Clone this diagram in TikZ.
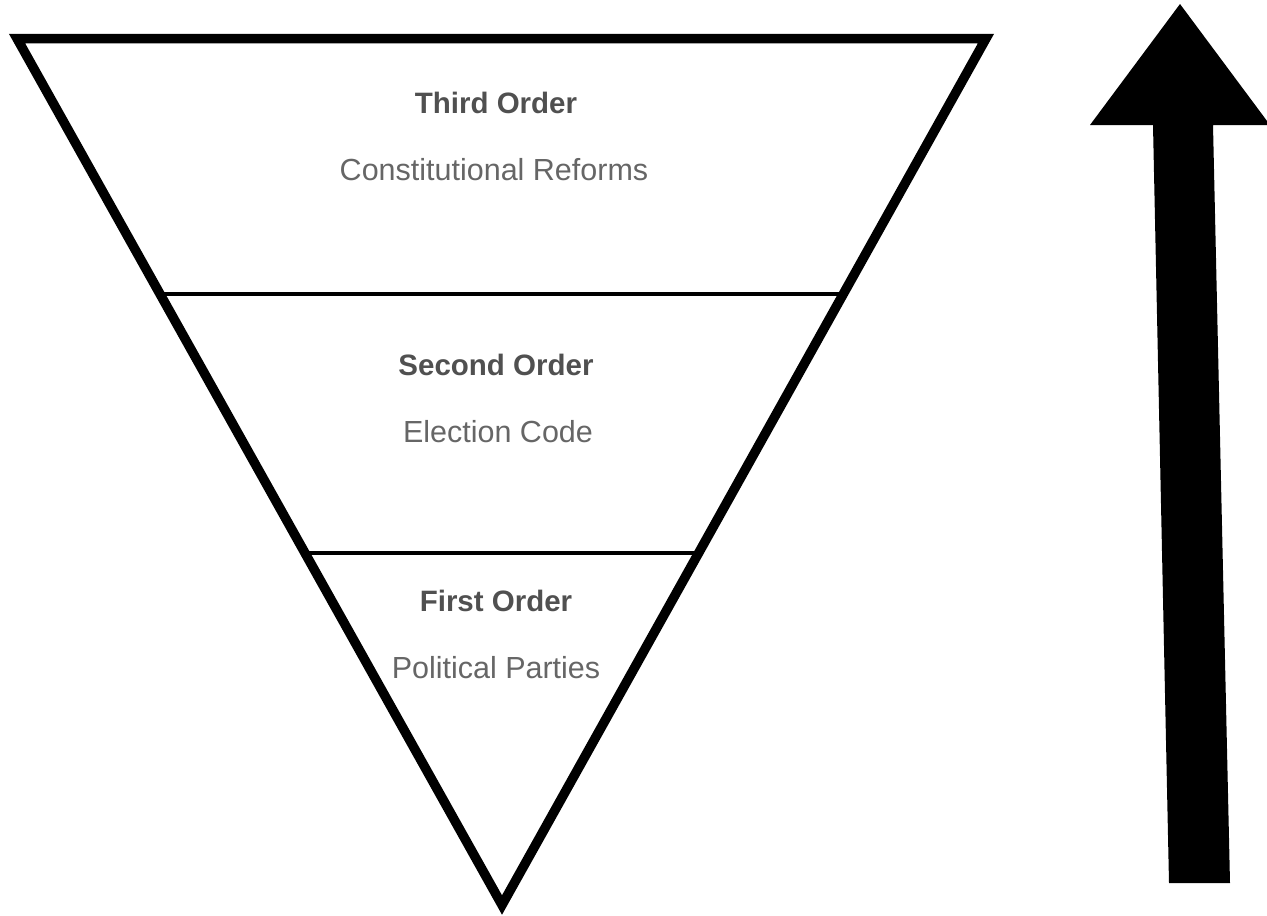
\documentclass[tikz,border=0pt]{standalone}
\usepackage{fontspec}
\setmainfont{Liberation Sans}
\definecolor{headgray}{HTML}{505050}
\definecolor{subgray}{HTML}{666666}
\tikzset{
  frame/.style={draw=black, line width=9.5pt, line join=miter},
  divider/.style={draw=black, line width=3.5pt},
  head/.style={anchor=base, font=\fontsize{29.5}{34}\selectfont\bfseries, text=headgray, inner sep=0pt},
  sub/.style={anchor=base, font=\fontsize{30.5}{35}\selectfont, text=subgray, inner sep=0pt},
  bigarrow/.style={fill=black, draw=none}
}
\begin{document}
\begin{tikzpicture}[x=1pt,y=-1pt]
\useasboundingbox (0,0) rectangle (1267,916);
% triangle corners
\coordinate (tl) at (17,38.5);
\coordinate (tr) at (986,38.5);
\coordinate (bt) at (502,905);
\draw[frame] (tl) -- (tr) -- (bt) -- cycle;
% dividers
\path (tl) -- (bt) coordinate[pos=0.2949] (l1) coordinate[pos=0.5938] (l2);
\path (tr) -- (bt) coordinate[pos=0.2949] (r1) coordinate[pos=0.5938] (r2);
\draw[divider] (l1) -- (r1);
\draw[divider] (l2) -- (r2);
% labels
\node[head] (third) at (496,113) {Third Order};
\node[sub] (thirdsub) at (494,180) {Constitutional Reforms};
\node[head] (second) at (496,375) {Second Order};
\node[sub] (secondsub) at (498,442) {Election Code};
\node[head] (first) at (496,611) {First Order};
\node[sub] (firstsub) at (496,678) {Political Parties};
% big arrow
\fill[bigarrow] (1180,4) -- (1090,125) -- (1153,125) -- (1169,883) -- (1230,883) -- (1213,125) -- (1270,125) -- cycle;
\end{tikzpicture}
\end{document}
